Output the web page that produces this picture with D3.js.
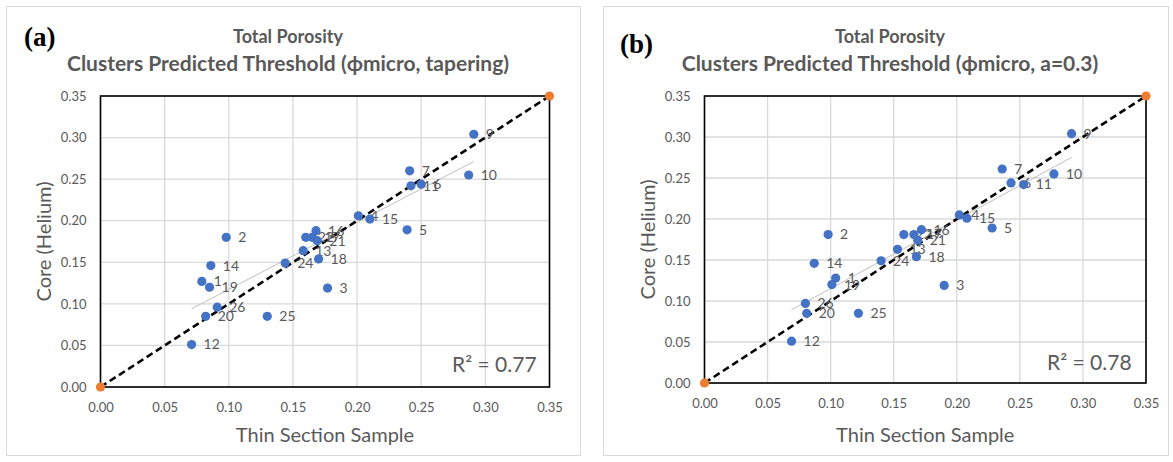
<!DOCTYPE html>
<html>
<head>
<meta charset="utf-8">
<script src="https://cdn.jsdelivr.net/npm/d3@7"></script>
<style>
  html, body { margin: 0; padding: 0; background: #fff; }
  svg { display: block; }
  text { font-family: Lato, "Open Sans", sans-serif; }
</style>
</head>
<body>
<svg id="chart" width="1173" height="462"></svg>
<script>
// Sample numbers and their porosity pairs, panel (a): tapering threshold
const sampleIdsA = [1, 2, 3, 4, 5, 6, 7, 9, 10, 11, 12, 13, 14, 15, 16, 17, 18, 19, 20, 21, 22, 24, 25, 26];
const thinSectionA = [0.079, 0.098, 0.177, 0.201, 0.239, 0.250, 0.241, 0.291, 0.287, 0.242, 0.071, 0.158, 0.086, 0.210, 0.168, 0.165, 0.170, 0.085, 0.082, 0.169, 0.160, 0.144, 0.130, 0.091];
const coreHeliumA  = [0.127, 0.180, 0.119, 0.206, 0.189, 0.244, 0.260, 0.304, 0.255, 0.242, 0.051, 0.164, 0.146, 0.202, 0.188, 0.180, 0.154, 0.120, 0.085, 0.176, 0.180, 0.149, 0.085, 0.096];

// Panel (b): a = 0.3 threshold
const sampleIdsB = [1, 2, 3, 4, 5, 6, 7, 9, 10, 11, 12, 13, 14, 15, 16, 17, 18, 19, 20, 21, 22, 24, 25, 26];
const thinSectionB = [0.104, 0.098, 0.190, 0.202, 0.228, 0.243, 0.236, 0.291, 0.277, 0.253, 0.069, 0.153, 0.087, 0.208, 0.172, 0.166, 0.168, 0.101, 0.081, 0.169, 0.158, 0.140, 0.122, 0.080];
const coreHeliumB  = [0.128, 0.181, 0.119, 0.205, 0.189, 0.244, 0.261, 0.304, 0.255, 0.242, 0.051, 0.163, 0.146, 0.201, 0.187, 0.181, 0.154, 0.120, 0.085, 0.174, 0.181, 0.149, 0.085, 0.097];

// 1:1 reference line end points
const identityLine = [0, 0.35];

// Shared axis ticks
const axisTicks = [0, 0.05, 0.10, 0.15, 0.20, 0.25, 0.30, 0.35];

const panelTitle = "Total Porosity";
const subtitles = ["Clusters Predicted Threshold (\u03d5micro, tapering)", "Clusters Predicted Threshold (\u03d5micro, a=0.3)"];
const panelTags = ["(a)", "(b)"];
const rSquaredText = ["R\u00b2 = 0.77", "R\u00b2 = 0.78"];

const svg = d3.select("#chart");
const grey = "#595959";

function drawPanel(opts) {
  const { ids, xs, ys, frame, plot, tag, subtitle, r2, titleX, tagPos, r2Pos } = opts;
  const g = svg.append("g");

  // chart area outline
  g.append("rect")
    .attr("x", frame.x).attr("y", frame.y)
    .attr("width", frame.w).attr("height", frame.h)
    .attr("fill", "#fff").attr("stroke", "#d9d9d9").attr("stroke-width", 1);

  const x = d3.scaleLinear().domain([0, 0.35]).range([plot.left, plot.right]);
  const y = d3.scaleLinear().domain([0, 0.35]).range([plot.bottom, plot.top]);

  // gridlines
  g.append("g").selectAll("line.h").data(axisTicks).join("line")
    .attr("x1", plot.left).attr("x2", plot.right)
    .attr("y1", d => y(d)).attr("y2", d => y(d))
    .attr("stroke", "#d9d9d9").attr("stroke-width", 1.3);
  g.append("g").selectAll("line.v").data(axisTicks).join("line")
    .attr("y1", plot.top).attr("y2", plot.bottom)
    .attr("x1", d => x(d)).attr("x2", d => x(d))
    .attr("stroke", "#d9d9d9").attr("stroke-width", 1.3);

  // axes (labels only, Excel style)
  const fmt = d3.format(".2f");
  const xAxis = g.append("g")
    .attr("transform", `translate(0,${plot.bottom + 12.5})`)
    .call(d3.axisBottom(x).tickValues(axisTicks).tickFormat(fmt).tickSize(0));
  const yAxis = g.append("g")
    .attr("transform", `translate(${plot.left - 11},0)`)
    .call(d3.axisLeft(y).tickValues(axisTicks).tickFormat(fmt).tickSize(0));
  [xAxis, yAxis].forEach(a => {
    a.select(".domain").remove();
    a.selectAll("text")
      .attr("fill", grey)
      .style("font-family", "Lato, 'Open Sans', sans-serif")
      .style("font-size", "13px");
  });

  // plot border
  g.append("rect")
    .attr("x", plot.left).attr("y", plot.top)
    .attr("width", plot.right - plot.left).attr("height", plot.bottom - plot.top)
    .attr("fill", "none").attr("stroke", "#000").attr("stroke-width", 1.6);

  // least-squares trendline across the data range
  const n = xs.length;
  const mx = d3.mean(xs), my = d3.mean(ys);
  let sxy = 0, sxx = 0;
  for (let i = 0; i < n; i++) { sxy += (xs[i] - mx) * (ys[i] - my); sxx += (xs[i] - mx) ** 2; }
  const slope = sxy / sxx, intercept = my - slope * mx;
  const [x0, x1] = d3.extent(xs);
  g.append("line")
    .attr("x1", x(x0)).attr("y1", y(intercept + slope * x0))
    .attr("x2", x(x1)).attr("y2", y(intercept + slope * x1))
    .attr("stroke", "#bfbfbf").attr("stroke-width", 1);

  // 1:1 dashed line
  g.append("line")
    .attr("x1", x(identityLine[0])).attr("y1", y(identityLine[0]))
    .attr("x2", x(identityLine[1])).attr("y2", y(identityLine[1]))
    .attr("stroke", "#000").attr("stroke-width", 2.6)
    .attr("stroke-dasharray", "7,4");

  const pts = ids.map((id, i) => ({ id, x: xs[i], y: ys[i] }));

  // sample labels
  g.append("g").selectAll("text").data(pts).join("text")
    .attr("x", d => x(d.x) + 12)
    .attr("y", d => y(d.y))
    .attr("dy", "0.35em")
    .attr("fill", grey)
    .style("font-size", "14px")
    .text(d => d.id);

  // sample markers
  g.append("g").selectAll("circle").data(pts).join("circle")
    .attr("cx", d => x(d.x)).attr("cy", d => y(d.y))
    .attr("r", 4.6).attr("fill", "#4472c4");

  // identity end markers
  g.append("g").selectAll("circle").data(identityLine).join("circle")
    .attr("cx", d => x(d)).attr("cy", d => y(d))
    .attr("r", 4.6).attr("fill", "#ed7d31");

  // titles
  g.append("text").attr("x", titleX).attr("y", 42.5)
    .attr("text-anchor", "middle").attr("fill", grey)
    .style("font-size", "18px").style("font-weight", "bold")
    .text(panelTitle);
  g.append("text").attr("x", titleX).attr("y", 70.5)
    .attr("text-anchor", "middle").attr("fill", grey)
    .style("font-size", "21px").style("font-weight", "bold")
    .text(subtitle);
  g.append("text").attr("x", tagPos[0]).attr("y", tagPos[1])
    .attr("fill", "#000")
    .style("font-family", "'Liberation Serif', 'DejaVu Serif', serif")
    .style("font-size", "27px").style("font-weight", "bold")
    .text(tag);

  // axis titles
  g.append("text")
    .attr("x", (plot.left + plot.right) / 2).attr("y", 442)
    .attr("text-anchor", "middle").attr("fill", grey)
    .style("font-size", "20px")
    .text("Thin Section Sample");
  g.append("text")
    .attr("transform", `translate(${plot.left - 50},${(plot.top + plot.bottom) / 2}) rotate(-90)`)
    .attr("text-anchor", "middle").attr("fill", grey)
    .style("font-size", "20px")
    .text("Core (Helium)");

  // R-squared annotation
  g.append("text").attr("x", r2Pos[0]).attr("y", r2Pos[1])
    .attr("fill", grey).style("font-size", "21px")
    .text(r2);
}

drawPanel({
  ids: sampleIdsA, xs: thinSectionA, ys: coreHeliumA,
  frame: { x: 6.5, y: 6.5, w: 574, h: 449 },
  plot: { left: 100.5, right: 549.5, top: 96, bottom: 387 },
  tag: panelTags[0], subtitle: subtitles[0], r2: rSquaredText[0],
  titleX: 288, tagPos: [24, 46], r2Pos: [452, 372]
});

drawPanel({
  ids: sampleIdsB, xs: thinSectionB, ys: coreHeliumB,
  frame: { x: 603.5, y: 6.5, w: 565, h: 449 },
  plot: { left: 704.5, right: 1146, top: 96, bottom: 383 },
  tag: panelTags[1], subtitle: subtitles[1], r2: rSquaredText[1],
  titleX: 890, tagPos: [620, 53], r2Pos: [1047, 370]
});
</script>
</body>
</html>
